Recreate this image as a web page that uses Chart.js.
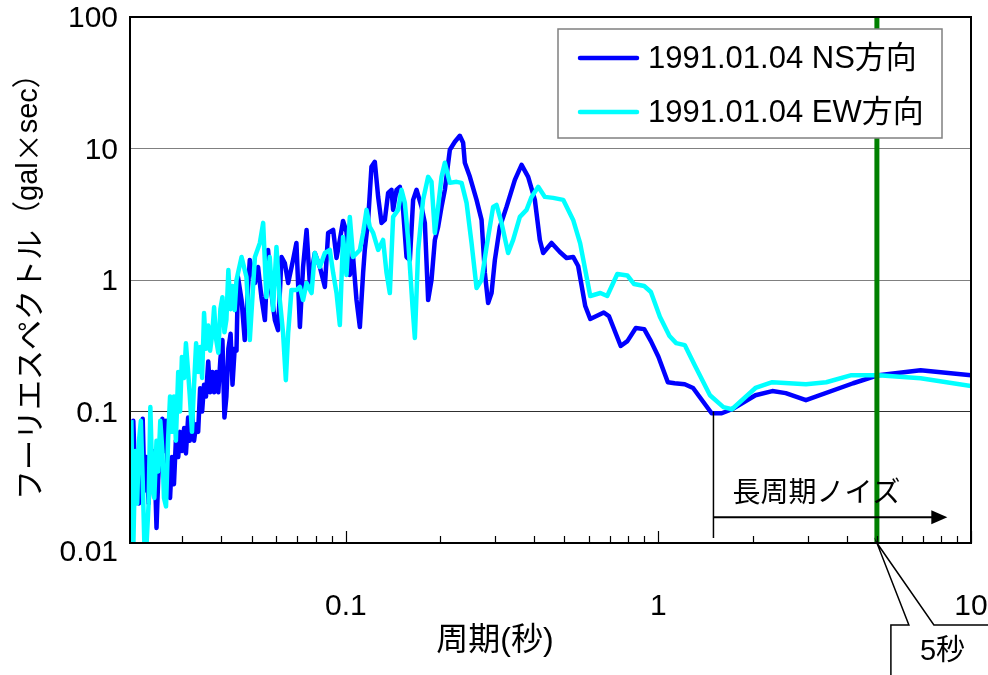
<!DOCTYPE html>
<html lang="ja">
<head>
<meta charset="utf-8">
<title>フーリエスペクトル</title>
<script src="https://cdn.jsdelivr.net/npm/chart.js@4/dist/chart.umd.min.js"></script>
<style>
  html, body { margin: 0; padding: 0; background: #fff; }
  #grafico { display: block; }
</style>
</head>
<body>
<canvas id="grafico" width="988" height="675"></canvas>
<script>
// 周期（秒）とフーリエ振幅（gal×sec）
const nsPeriod = [
  0.0206, 0.0209, 0.0212, 0.0215, 0.0218, 0.0221, 0.0224, 0.0227, 0.0230, 0.0234,
  0.0237, 0.0241, 0.0244, 0.0248, 0.0251, 0.0255, 0.0259, 0.0262, 0.0266, 0.0270,
  0.0274, 0.0278, 0.0282, 0.0286, 0.0291, 0.0295, 0.0299, 0.0304, 0.0308, 0.0313,
  0.0317, 0.0322, 0.0327, 0.0332, 0.0337, 0.0342, 0.0347, 0.0352, 0.0357, 0.0363,
  0.0368, 0.0374, 0.0379, 0.0385, 0.0391, 0.0397, 0.0403, 0.0409, 0.0415, 0.0421,
  0.0428, 0.0434, 0.0441, 0.0447,
  0.0452, 0.0464, 0.0475, 0.0493, 0.0512,
  0.0524, 0.0537, 0.0551, 0.0564, 0.0578, 0.0593, 0.0607, 0.0623, 0.0638, 0.0654,
  0.0678, 0.0695, 0.0713, 0.0730, 0.0749, 0.0767, 0.0796, 0.0826, 0.0857, 0.0878,
  0.0911, 0.0934, 0.0957, 0.0980, 0.1005, 0.1030, 0.1055, 0.1082, 0.1109, 0.1136,
  0.1150, 0.1179, 0.1208, 0.1238, 0.1269, 0.1301, 0.1333, 0.1366, 0.1400, 0.1417,
  0.1453, 0.1489, 0.1525, 0.1564, 0.1603, 0.1642, 0.1684, 0.1747, 0.1790, 0.1834,
  0.1880, 0.1927, 0.1974, 0.2024, 0.2074, 0.2152, 0.2233, 0.2316, 0.2373, 0.2403,
  0.2494, 0.2620, 0.2718, 0.2785, 0.2853, 0.2926, 0.2998, 0.3110, 0.3267, 0.3474,
  0.3650, 0.3831, 0.4025, 0.4176, 0.4279, 0.4552, 0.4839, 0.5084, 0.5337, 0.5537,
  0.5834, 0.6053, 0.6688, 0.6944, 0.7576, 0.7958, 0.8467, 0.9006, 0.9462, 1.000,
  1.072, 1.127, 1.214, 1.291, 1.480, 1.594, 1.719, 2.044, 2.314, 2.555,
  2.965, 4.198, 5.058, 6.898, 10
];
const nsAmp = [
  0.013, 0.085, 0.030, 0.050, 0.020, 0.045, 0.088, 0.025, 0.045, 0.020,
  0.040, 0.030, 0.050, 0.013, 0.030, 0.060, 0.088, 0.050, 0.085, 0.028,
  0.022, 0.045, 0.028, 0.060, 0.045, 0.070, 0.050, 0.075, 0.048, 0.090,
  0.060, 0.100, 0.060, 0.080, 0.070, 0.150, 0.100, 0.160, 0.130, 0.240,
  0.140, 0.200, 0.140, 0.200, 0.140, 0.250, 0.350, 0.090, 0.130, 0.300,
  0.390, 0.160, 0.300, 0.290,
  1.054, 0.704, 0.349, 1.420, 0.949,
  1.256, 0.742, 0.496, 1.692, 0.796, 0.496, 0.416, 1.497, 1.348, 0.949,
  1.420, 1.913, 0.439, 1.256, 2.403, 0.949, 1.606, 1.256, 0.885, 2.280,
  2.403, 1.471, 2.017, 2.814, 2.320, 1.092, 1.497, 0.704, 0.439, 1.131,
  1.692, 2.864, 7.256, 7.918, 4.286, 2.718, 2.864, 4.598, 4.848, 3.413,
  4.848, 5.108, 3.413, 1.497, 1.420, 4.068, 4.848, 3.597, 2.718, 0.704,
  1.000, 2.017, 2.533, 3.597, 4.848, 9.774, 11.25, 12.49, 11.05, 7.783,
  6.087, 4.068, 2.864, 1.131, 0.668, 0.796, 1.420, 2.533, 3.597, 5.776,
  7.515, 6.087, 4.068, 2.017, 1.606, 1.913, 1.634, 1.471, 1.497, 1.278,
  0.634, 0.505, 0.566, 0.532, 0.315, 0.343, 0.431, 0.423, 0.343, 0.261,
  0.167, 0.164, 0.161, 0.151, 0.097, 0.097, 0.104, 0.133, 0.143, 0.138,
  0.122, 0.164, 0.189, 0.206, 0.189
];
const ewPeriod = [
  0.0206, 0.0209, 0.0212, 0.0215, 0.0218, 0.0221, 0.0224, 0.0227, 0.0230, 0.0234,
  0.0237, 0.0241, 0.0244, 0.0248, 0.0251, 0.0255, 0.0259, 0.0262, 0.0266, 0.0270,
  0.0274, 0.0278, 0.0282, 0.0286, 0.0291, 0.0295, 0.0299, 0.0304, 0.0308, 0.0313,
  0.0317, 0.0322, 0.0327, 0.0332, 0.0337, 0.0342, 0.0347, 0.0352, 0.0357, 0.0363,
  0.0368, 0.0374, 0.0379, 0.0385, 0.0391, 0.0397, 0.0403, 0.0409, 0.0415, 0.0421,
  0.0428, 0.0434, 0.0441, 0.0447,
  0.0464, 0.0481, 0.0493, 0.0512, 0.0531, 0.0544, 0.0557, 0.0571,
  0.0585, 0.0600, 0.0615, 0.0630, 0.0643, 0.0654, 0.0670, 0.0695, 0.0713, 0.0730,
  0.0749, 0.0777, 0.0796, 0.0826, 0.0857, 0.0889, 0.0911, 0.0934, 0.0957, 0.0980,
  0.1005, 0.1030, 0.1055, 0.1109, 0.1136, 0.1165, 0.1193, 0.1223, 0.1269, 0.1316,
  0.1350, 0.1383, 0.1417, 0.1470, 0.1507, 0.1545, 0.1583, 0.1635, 0.1663, 0.1704,
  0.1767, 0.1834, 0.1880, 0.1927, 0.1974, 0.2024, 0.2074, 0.2152, 0.2261, 0.2346,
  0.2434, 0.2525, 0.2620, 0.2718, 0.2820, 0.2960, 0.3035, 0.3149, 0.3306, 0.3430,
  0.3604, 0.3786, 0.3929, 0.4126, 0.4333, 0.4606, 0.4959, 0.5337, 0.5620, 0.6053,
  0.6523, 0.6858, 0.7388, 0.7958, 0.8361, 0.9006, 0.9462, 1.011, 1.085, 1.140,
  1.214, 1.307, 1.462, 1.614, 1.719, 2.044, 2.314, 2.965, 3.443, 4.146,
  5.058, 6.898, 10
];
const ewAmp = [
  0.086, 0.009, 0.050, 0.020, 0.060, 0.085, 0.030, 0.009, 0.009, 0.020,
  0.108, 0.025, 0.022, 0.060, 0.035, 0.085, 0.050, 0.022, 0.019, 0.060,
  0.130, 0.070, 0.130, 0.060, 0.200, 0.100, 0.260, 0.180, 0.330, 0.200,
  0.130, 0.070, 0.160, 0.330, 0.200, 0.310, 0.180, 0.560, 0.300, 0.450,
  0.290, 0.390, 0.620, 0.350, 0.280, 0.600, 0.740, 0.400, 0.500, 1.190,
  0.600, 0.900, 0.590, 1.000,
  1.497, 1.054, 0.349, 1.497, 1.913, 2.718, 0.742, 1.497,
  0.591, 1.784, 0.704, 0.395, 0.173, 0.395, 0.839, 0.839, 0.885, 0.704,
  0.949, 0.796, 1.606, 1.256, 1.606, 1.692, 1.131, 0.796, 0.454, 2.126,
  1.092, 3.018, 1.497, 1.692, 2.280, 3.413, 2.533, 2.280, 1.692, 2.017,
  1.131, 0.796, 3.018, 3.413, 4.848, 3.858, 2.017, 0.623, 0.362, 1.692,
  4.068, 6.087, 5.577, 2.280, 3.597, 6.087, 7.783, 5.480, 5.577, 5.480,
  3.858, 1.913, 0.869, 1.000, 1.784, 3.597, 3.725, 2.718, 1.606, 2.017,
  3.018, 3.413, 4.286, 5.108, 4.286, 4.212, 4.068, 2.864, 1.897, 0.756,
  0.796, 0.756, 1.111, 1.082, 0.932, 0.900, 0.810, 0.525, 0.375, 0.331,
  0.320, 0.225, 0.133, 0.108, 0.104, 0.151, 0.167, 0.161, 0.167, 0.189,
  0.189, 0.179, 0.156
];

const seriesLabels = ["1991.01.04 NS方向", "1991.01.04 EW方向"];
const seriesColors = ["#0000FF", "#00FFFF"];

const xLabelTicks = [0.1, 1, 10];
const xMinorTicks = [0.03, 0.04, 0.05, 0.06, 0.07, 0.08, 0.09,
                     0.2, 0.3, 0.4, 0.5, 0.6, 0.7, 0.8, 0.9,
                     2, 3, 4, 5, 6, 7, 8, 9];
const yTicks = [0.01, 0.1, 1, 10, 100];

// 5秒の線と長周期ノイズの範囲
const markerPeriod = 5;
const noiseStart = 1.5;
const noiseArrowEnd = 8.4;
const noiseArrowLevel = 0.0157;

const fontFamily = "'Liberation Sans', 'Noto Sans CJK JP', sans-serif";
const cjkFamily = "'Noto Sans CJK JP', sans-serif";
Chart.defaults.font.family = fontFamily;
Chart.defaults.color = "#000";

function toPoints(periods, amps) {
  return periods.map((p, i) => ({ x: p, y: amps[i] }));
}

const decoraciones = {
  id: "decoraciones",
  afterDatasetsDraw(chart) {
    const { ctx, chartArea: a, scales: { x, y } } = chart;
    ctx.save();

    // 5秒の縦線
    const gx = x.getPixelForValue(markerPeriod);
    ctx.strokeStyle = "#008000";
    ctx.lineWidth = 5;
    ctx.beginPath();
    ctx.moveTo(gx, a.top);
    ctx.lineTo(gx, a.bottom);
    ctx.stroke();

    // 長周期ノイズ
    const nx = x.getPixelForValue(noiseStart);
    const ex = x.getPixelForValue(noiseArrowEnd);
    const ny = y.getPixelForValue(noiseArrowLevel);
    ctx.strokeStyle = "#000";
    ctx.lineWidth = 1.5;
    ctx.beginPath();
    ctx.moveTo(nx, y.getPixelForValue(0.1));
    ctx.lineTo(nx, a.bottom - 5);
    ctx.stroke();
    ctx.lineWidth = 2;
    ctx.beginPath();
    ctx.moveTo(nx, ny);
    ctx.lineTo(ex - 12, ny);
    ctx.stroke();
    ctx.fillStyle = "#000";
    ctx.beginPath();
    ctx.moveTo(ex, ny);
    ctx.lineTo(ex - 16, ny - 7);
    ctx.lineTo(ex - 16, ny + 7);
    ctx.closePath();
    ctx.fill();
    ctx.font = "28px " + fontFamily;
    ctx.textAlign = "left";
    ctx.textBaseline = "middle";
    ctx.fillText("長周期ノイズ", nx + 19, ny - 23);

    // 枠と内向きの目盛
    ctx.strokeStyle = "#000";
    ctx.lineWidth = 2;
    ctx.strokeRect(a.left, a.top, a.right - a.left, a.bottom - a.top);
    ctx.lineWidth = 1.2;
    ctx.beginPath();
    xMinorTicks.forEach(v => {
      const px = Math.round(x.getPixelForValue(v)) + 0.5;
      ctx.moveTo(px, a.bottom);
      ctx.lineTo(px, a.bottom - 7);
    });
    xLabelTicks.forEach(v => {
      const px = Math.round(x.getPixelForValue(v)) + 0.5;
      ctx.moveTo(px, a.bottom);
      ctx.lineTo(px, a.bottom - 12);
    });
    ctx.stroke();

    // 縦軸の目盛ラベル（最下段だけ少し下げる）
    ctx.font = "30px " + fontFamily;
    ctx.textAlign = "right";
    ctx.fillStyle = "#000";
    yTicks.forEach((v, i) => {
      const py = y.getPixelForValue(v) + (i === 0 ? 10 : 2);
      ctx.fillText(String(v), a.left - 12, py);
    });

    // 凡例
    const lw = 384, lh = 109;
    const lx = a.right - 29 - lw, ly = a.top + 12;
    ctx.textAlign = "left";
    ctx.fillStyle = "#fff";
    ctx.fillRect(lx, ly, lw, lh);
    ctx.strokeStyle = "#808080";
    ctx.lineWidth = 1.5;
    ctx.strokeRect(lx, ly, lw, lh);
    ctx.font = "31px " + fontFamily;
    chart.data.datasets.forEach((ds, i) => {
      const cy = ly + 29 + i * 54;
      ctx.strokeStyle = ds.borderColor;
      ctx.lineWidth = 4.5;
      ctx.lineCap = "round";
      ctx.beginPath();
      ctx.moveTo(lx + 22, cy);
      ctx.lineTo(lx + 79, cy);
      ctx.stroke();
      ctx.fillStyle = "#000";
      ctx.fillText(ds.label, lx + 90, cy + 1);
    });
    ctx.lineCap = "butt";

    // 5秒の吹き出し
    const boxTop = 625;
    ctx.strokeStyle = "#000";
    ctx.lineWidth = 1.5;
    ctx.beginPath();
    ctx.moveTo(gx + 14, chart.height);
    ctx.lineTo(gx + 14, boxTop);
    ctx.lineTo(gx + 32, boxTop);
    ctx.lineTo(gx, a.bottom);
    ctx.lineTo(gx + 57, boxTop);
    ctx.lineTo(chart.width, boxTop);
    ctx.stroke();
    ctx.font = "29px " + fontFamily;
    ctx.fillText("5秒", gx + 43, 652);

    ctx.restore();
  },
  afterDraw(chart) {
    const ctx = chart.ctx;
    ctx.save();
    ctx.fillStyle = "#000";
    // 軸タイトル
    ctx.font = "32px " + fontFamily;
    ctx.textAlign = "center";
    ctx.textBaseline = "middle";
    ctx.fillText("周期(秒)", 495, 641);

    ctx.translate(29, 500);
    ctx.rotate(-Math.PI / 2);
    ctx.textAlign = "left";
    const parts = [
      ["フーリエスペクトル", "30px " + cjkFamily],
      ["（gal", "29px " + fontFamily],
      ["×", "29px " + cjkFamily],
      ["sec）", "29px " + fontFamily]
    ];
    let pos = 0;
    parts.forEach(([text, font]) => {
      ctx.font = font;
      ctx.fillText(text, pos, 0);
      pos += ctx.measureText(text).width;
    });
    ctx.restore();
  }
};

const grafico = document.getElementById("grafico");
new Chart(grafico, {
  type: "line",
  data: {
    datasets: [
      {
        label: seriesLabels[0],
        data: toPoints(nsPeriod, nsAmp),
        borderColor: seriesColors[0],
        borderWidth: 4.5,
        order: 1
      },
      {
        label: seriesLabels[1],
        data: toPoints(ewPeriod, ewAmp),
        borderColor: seriesColors[1],
        borderWidth: 4.5,
        order: 0
      }
    ]
  },
  options: {
    responsive: false,
    animation: false,
    devicePixelRatio: 1,
    layout: { padding: { top: 17, right: 17, bottom: 0, left: 0 } },
    elements: {
      point: { radius: 0, hoverRadius: 0 },
      line: { tension: 0, borderJoinStyle: "round", fill: false }
    },
    datasets: { line: { clip: 0 } },
    plugins: {
      legend: { display: false },
      tooltip: { enabled: false }
    },
    scales: {
      x: {
        type: "logarithmic",
        min: 0.0204,
        max: 10,
        afterBuildTicks: s => { s.ticks = xLabelTicks.map(v => ({ value: v })); },
        afterFit: s => { s.height = 132; s.paddingLeft = 0; s.paddingRight = 0; },
        ticks: {
          callback: v => String(v),
          font: { size: 30 },
          color: "#000",
          padding: 38,
          maxRotation: 0,
          autoSkip: false
        },
        grid: { display: false },
        border: { display: true, color: "#000", width: 2 }
      },
      y: {
        type: "logarithmic",
        min: 0.01,
        max: 100,
        afterBuildTicks: s => { s.ticks = yTicks.map(v => ({ value: v })); },
        afterFit: s => { s.width = 130; s.paddingTop = 0; s.paddingBottom = 0; },
        ticks: { display: false },
        grid: {
          color: c => (c.tick && c.tick.value === 0.1 ? "#303030" : "#808080"),
          lineWidth: 1,
          drawTicks: false
        },
        border: { color: "#000", width: 2 }
      }
    }
  },
  plugins: [decoraciones]
});
</script>
</body>
</html>
